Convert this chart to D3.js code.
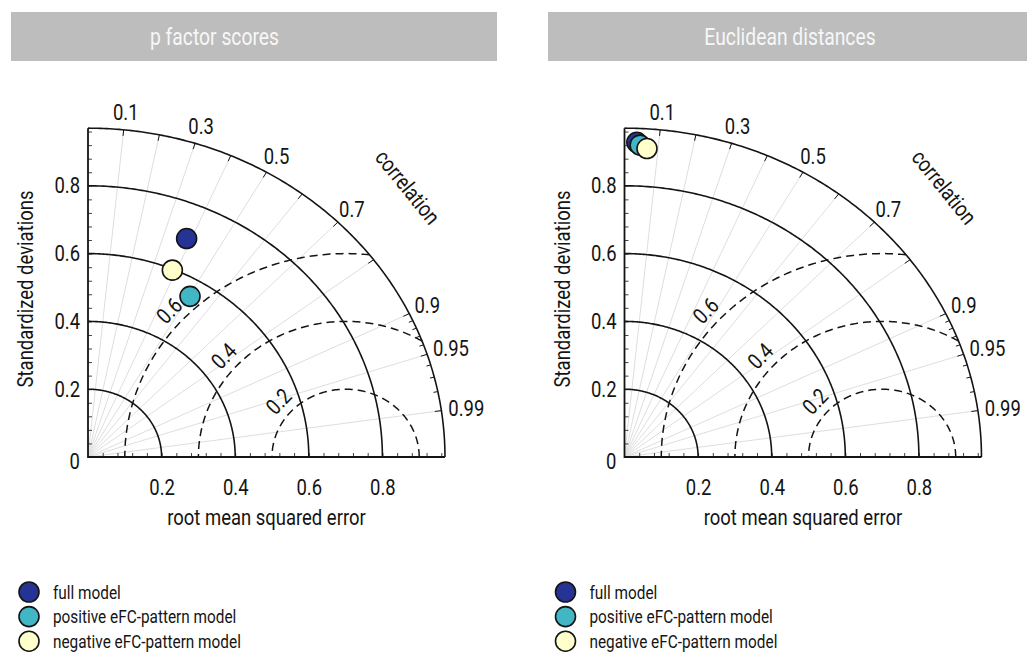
<!DOCTYPE html>
<html>
<head>
<meta charset="utf-8">
<script src="https://cdn.jsdelivr.net/npm/d3@7"></script>
<style>
  html, body { margin: 0; padding: 0; background: #ffffff; }
  svg { display: block; }
</style>
</head>
<body>
<svg id="chart" width="1027" height="652"></svg>
<script>
// ---- data ----------------------------------------------------------------
const panelTitles = ["p factor scores", "Euclidean distances"];
const modelNames = ["full model", "positive eFC-pattern model", "negative eFC-pattern model"];
const modelColors = ["#253494", "#41b6c4", "#ffffcc"];

// standard deviation and correlation of each model (full, positive, negative)
const sdPFactor   = [0.698, 0.549, 0.597];
const corrPFactor = [0.384, 0.505, 0.384];
const sdEuclid    = [0.929, 0.921, 0.912];
const corrEuclid  = [0.036, 0.046, 0.067];

const sdTickValues    = [0, 0.2, 0.4, 0.6, 0.8];
const xTickValues     = [0.2, 0.4, 0.6, 0.8];
const corrLabelValues = [0.1, 0.3, 0.5, 0.7, 0.9, 0.95, 0.99];
const corrGridValues  = [0.1, 0.2, 0.3, 0.4, 0.5, 0.6, 0.7, 0.8, 0.9, 0.95, 0.99];
const corrFineTicks   = [0.91, 0.92, 0.93, 0.94, 0.96, 0.97, 0.98];
const sdArcValues   = [0.2, 0.4, 0.6, 0.8];
const rmseArcValues = [0.2, 0.4, 0.6];
const maxSD = 0.97;   // outer boundary of the diagram
const refSD = 0.7;    // centre of the RMSE circles

// ---- layout --------------------------------------------------------------
const svg = d3.select("#chart");
const OY = 457;                   // y of the diagram origin
const UNIT_X = 368, UNIT_Y = 339; // pixels per unit of SD
const panels = [
  { title: panelTitles[0], sd: sdPFactor, corr: corrPFactor, ox: 88,    bar: 11,  titleX: 214.5 },
  { title: panelTitles[1], sd: sdEuclid,  corr: corrEuclid,  ox: 624.5, bar: 548, titleX: 790 }
];

function hasFont(name) {
  const ctx = document.createElement("canvas").getContext("2d");
  const s = "mmmmmmmmmwwwlli0.123456789";
  ctx.font = "40px monospace";
  const a = ctx.measureText(s).width;
  ctx.font = `40px "${name}", monospace`;
  const b = ctx.measureText(s).width;
  return Math.abs(a - b) > 0.5;
}
const narrow = hasFont("Liberation Sans Narrow");
const FONT = narrow ? "Liberation Sans Narrow" : "Roboto";
const SX = narrow ? 1 : 0.84;      // horizontal squeeze for a condensed look
const INK = "#141414";

function txt(parent, x, y, s, o = {}) {
  return parent.append("text")
    .attr("transform", `translate(${x},${y}) rotate(${o.rotate || 0}) scale(${SX},1)`)
    .attr("font-family", FONT)
    .attr("font-size", o.size || 22)
    .attr("text-anchor", o.anchor || "middle")
    .attr("dy", o.dy || null)
    .attr("fill", o.fill || INK)
    .text(s);
}
const fmtCorr = d => String(d);

function drawPanel(p) {
  // title bar
  svg.append("rect").attr("x", p.bar).attr("y", 12).attr("width", 486).attr("height", 49)
    .attr("fill", "#bdbdbd");
  txt(svg, p.titleX, 45, p.title, { size: 23, fill: "#f7f7f7" });

  const g = svg.append("g").attr("transform", `translate(${p.ox},${OY})`);
  const xs = d3.scaleLinear().domain([0, 1]).range([0, UNIT_X]);
  const ys = d3.scaleLinear().domain([0, 1]).range([0, -UNIT_Y]);
  const pt = (r, a) => [xs(r * Math.cos(a)), ys(r * Math.sin(a))];
  const line = d3.line();

  // correlation rays
  g.append("g").selectAll("path").data(corrGridValues).join("path")
    .attr("d", c => line([pt(0, Math.acos(c)), pt(maxSD, Math.acos(c))]))
    .attr("fill", "none").attr("stroke", "#dedede").attr("stroke-width", 1);

  // RMSE circles about the reference point
  const rmse = g.append("g");
  rmseArcValues.forEach(r => {
    const c0 = (maxSD * maxSD - refSD * refSD - r * r) / (2 * refSD * r);
    const t0 = c0 >= 1 ? 0 : Math.acos(Math.max(-1, c0));
    const n = 160;
    const pts = d3.range(n + 1).map(i => {
      const t = t0 + (Math.PI - t0) * i / n;
      return [xs(refSD + r * Math.cos(t)), ys(r * Math.sin(t))];
    });
    rmse.append("path").attr("d", line(pts)).attr("fill", "none")
      .attr("stroke", INK).attr("stroke-width", 1.5).attr("stroke-dasharray", "8,5");
    // label sitting just outside the circle, along its tangent
    const ta = 138 * Math.PI / 180, rr = r + 0.045;
    const lx = xs(refSD + rr * Math.cos(ta)), ly = ys(rr * Math.sin(ta));
    const ang = Math.atan2(-(ys(Math.cos(ta))), xs(Math.sin(ta))) * 180 / Math.PI;
    txt(rmse, lx, ly, String(r), { rotate: ang, dy: "0.35em" });
  });

  // standard deviation arcs
  [...sdArcValues, maxSD].forEach(r => {
    const pts = d3.range(181).map(i => pt(r, i / 180 * Math.PI / 2));
    g.append("path").attr("d", line(pts)).attr("fill", "none")
      .attr("stroke", INK).attr("stroke-width", 1.6);
  });

  // ticks on the outer arc
  const tick = (c, len) => {
    const a = Math.acos(c);
    g.append("path").attr("d", line([pt(maxSD, a), pt(maxSD - len, a)]))
      .attr("stroke", INK).attr("stroke-width", 1);
  };
  corrGridValues.forEach(c => tick(c, 0.018));
  corrFineTicks.forEach(c => tick(c, 0.012));

  // correlation labels
  corrLabelValues.forEach(c => {
    const a = Math.acos(c);
    const t = txt(g, 0, 0, fmtCorr(c), { dy: "0.35em" });
    const w = t.node().getBBox().width * SX;
    const [bx, by] = pt(maxSD * 1.055, a);
    const extra = Math.max(0, (w - 25) / 2) * Math.cos(a);
    t.attr("transform", `translate(${bx + extra},${by}) scale(${SX},1)`);
  });
  const [cx, cy] = pt(maxSD * 1.215, 42.5 * Math.PI / 180);
  txt(g, cx, cy, "correlation", { rotate: 51, dy: "0.35em" });

  // axes
  const ySD = d3.scaleLinear().domain([0, maxSD]).range([0, -maxSD * UNIT_Y]);
  const xSD = d3.scaleLinear().domain([0, maxSD]).range([0, maxSD * UNIT_X]);
  const minor = d3.range(1, 25).map(i => +(i * 0.04).toFixed(2));

  const yMinor = g.append("g").call(d3.axisLeft(ySD).tickValues(minor).tickSize(-4).tickFormat(""));
  yMinor.select(".domain").remove();
  yMinor.selectAll("line").attr("stroke", INK).attr("stroke-width", 0.8);
  const xMinor = g.append("g").call(d3.axisBottom(xSD).tickValues(minor).tickSize(-4).tickFormat(""));
  xMinor.select(".domain").remove();
  xMinor.selectAll("line").attr("stroke", INK).attr("stroke-width", 0.8);

  const yAx = g.append("g").call(d3.axisLeft(ySD).tickValues(sdTickValues).tickSize(0).tickPadding(8)
    .tickFormat(d => d === 0 ? "0" : d3.format(".1f")(d)));
  yAx.select(".domain").remove();
  yAx.selectAll("text").attr("font-family", FONT).attr("font-size", 22).attr("fill", INK)
    .attr("x", -8 / SX).attr("transform", d => `translate(0,${d === 0 ? 4 : 0}) scale(${SX},1)`);

  const xAx = g.append("g").call(d3.axisBottom(xSD).tickValues(xTickValues).tickSize(0).tickPadding(22)
    .tickFormat(d3.format(".1f")));
  xAx.select(".domain").remove();
  xAx.selectAll("text").attr("font-family", FONT).attr("font-size", 22).attr("fill", INK)
    .attr("transform", `scale(${SX},1)`);

  g.append("path").attr("d", line([[0, ys(maxSD)], [0, 0], [xs(maxSD), 0]]))
    .attr("fill", "none").attr("stroke", INK).attr("stroke-width", 1.8);

  txt(g, xs(maxSD / 2), 68, "root mean squared error", { size: 22 });
  txt(g, -55, -168, "Standardized deviations", { size: 22, rotate: -90 });

  // model points
  const pts = p.sd.map((s, i) => ({ s, c: p.corr[i], i }));
  g.append("g").selectAll("circle").data(pts).join("circle")
    .attr("cx", d => xs(d.s * d.c))
    .attr("cy", d => ys(d.s * Math.sqrt(1 - d.c * d.c)))
    .attr("r", 10)
    .attr("fill", d => modelColors[d.i])
    .attr("stroke", INK).attr("stroke-width", 1.6);

  // legend
  const lg = svg.append("g").attr("transform", `translate(${p.ox - 59},592)`);
  modelNames.forEach((name, i) => {
    lg.append("circle").attr("cx", 0).attr("cy", i * 24.6).attr("r", 10)
      .attr("fill", modelColors[i]).attr("stroke", INK).attr("stroke-width", 1.6);
    txt(lg, 24, i * 24.6 + 6.6, name, { size: 18.3, anchor: "start" });
  });
}

panels.forEach(drawPanel);
</script>
</body>
</html>
